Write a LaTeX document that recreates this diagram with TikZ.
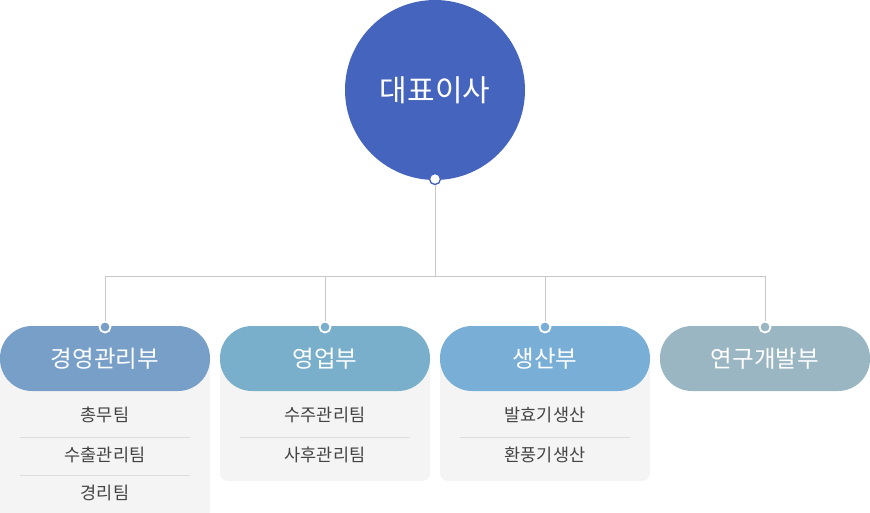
\documentclass[tikz,border=0pt]{standalone}
\usepackage{fontspec}
\setmainfont{Noto Sans CJK KR}
\definecolor{ceo}{HTML}{4564BD}
\definecolor{pa}{HTML}{789FC8}
\definecolor{pb}{HTML}{79AFCA}
\definecolor{pc}{HTML}{79AED7}
\definecolor{pd}{HTML}{9BB6C3}
\definecolor{panel}{HTML}{F4F4F4}
\definecolor{sep}{HTML}{DDDDDD}
\definecolor{wire}{HTML}{C8C8C8}
\definecolor{subtxt}{HTML}{444444}
\begin{document}
\begin{tikzpicture}[x=1pt,y=-1pt,
  pill/.style={rounded corners=32pt,minimum width=210pt,minimum height=65pt,inner sep=0pt,text=white,font=\fontsize{23.5}{27}\selectfont},
  panelbox/.style={fill=panel,rounded corners=8pt},
  subitem/.style={text=subtxt,font=\fontsize{17.5}{20}\selectfont,inner sep=0pt},
  sepline/.style={draw=sep,line width=0.8pt},
  wireline/.style={draw=wire,line width=0.9pt},
  dot/.style={circle,draw=white,line width=1.8pt,minimum size=11pt,inner sep=0pt}]
\useasboundingbox (0,0) rectangle (870,513);
% panels
\fill[panelbox] (0,358) rectangle (210,520);
\fill[panelbox] (220,358) rectangle (430,481);
\fill[panelbox] (440,358) rectangle (650,481);
% pills
\node[pill,fill=pa] (d1) at (105,358.5) {경영관리부};
\node[pill,fill=pb] (d2) at (325,358.5) {영업부};
\node[pill,fill=pc] (d3) at (545,358.5) {생산부};
\node[pill,fill=pd] (d4) at (765,358.5) {연구개발부};
% CEO
\node[circle,fill=ceo,minimum size=180pt,inner sep=0pt,text=white,font=\fontsize{30}{34}\selectfont] (ceo) at (435,90) {대표이사};
% wires
\coordinate (hub) at (435,276);
\coordinate (h1) at (105,276);
\coordinate (h2) at (325,276);
\coordinate (h3) at (545,276);
\coordinate (h4) at (765,276);
\node[dot,draw=ceo,fill=white,line width=1.4pt] (cdot) at (435,179) {};
\node[dot,fill=pa] (t1) at (105,327) {};
\node[dot,fill=pb] (t2) at (325,327) {};
\node[dot,fill=pc] (t3) at (545,327) {};
\node[dot,fill=pd] (t4) at (765,327) {};
\draw[wireline] (cdot.south) -- (hub);
\draw[wireline] (h1) -- (h4);
\draw[wireline] (h1) -- (t1.north);
\draw[wireline] (h2) -- (t2.north);
\draw[wireline] (h3) -- (t3.north);
\draw[wireline] (h4) -- (t4.north);
% sub items
\node[subitem] (s11) at (105,415) {총무팀};
\node[subitem] (s12) at (105,455) {수출관리팀};
\node[subitem] (s13) at (105,493) {경리팀};
\draw[sepline] (20,437) -- (190,437);
\draw[sepline] (20,475) -- (190,475);
\node[subitem] (s21) at (325,415) {수주관리팀};
\node[subitem] (s22) at (325,455) {사후관리팀};
\draw[sepline] (240,437) -- (410,437);
\node[subitem] (s31) at (545,415) {발효기생산};
\node[subitem] (s32) at (545,455) {환풍기생산};
\draw[sepline] (460,437) -- (630,437);
\end{tikzpicture}
\end{document}
